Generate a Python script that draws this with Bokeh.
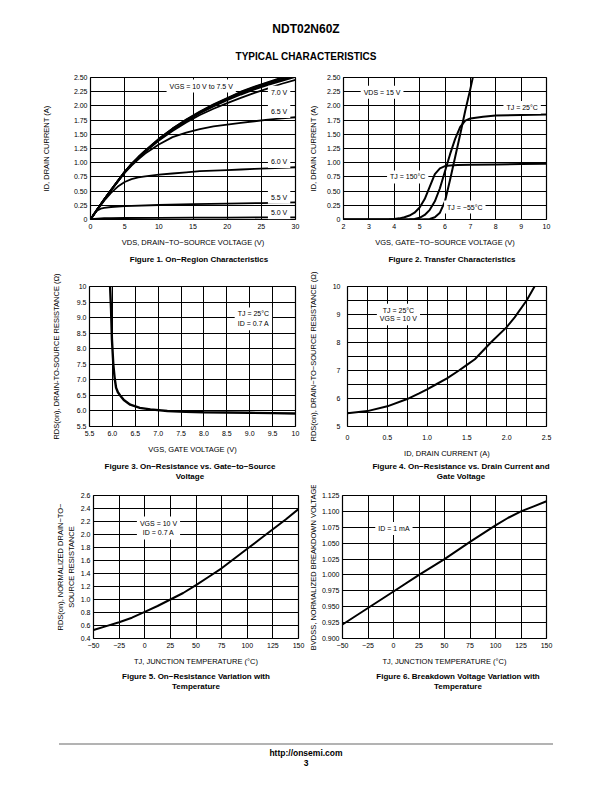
from bokeh.plotting import figure
from bokeh.models import Range1d, FixedTicker, Label, Div, Spacer
from bokeh.layouts import column, row
from bokeh.embed import file_html
from bokeh.resources import INLINE

FONT = "Liberation Sans"
CSSFONT = "'Liberation Sans', Arial, Helvetica, sans-serif"
M = "\u2212"

# ---------------- Figure 1: On-Region Characteristics ----------------
f1_vds = [0, 1, 2, 3, 4, 5, 6, 7, 8, 10, 12, 14, 16, 18, 20, 22, 24, 26, 28, 30]
f1_id_10v = [0, 0.18, 0.35, 0.52, 0.68, 0.84, 0.98, 1.10, 1.21, 1.42, 1.60, 1.76, 1.90, 2.03, 2.14, 2.25, 2.34, 2.42, 2.50, 2.57]
f1_id_9v = [0, 0.18, 0.35, 0.52, 0.68, 0.84, 0.98, 1.10, 1.21, 1.42, 1.60, 1.75, 1.89, 2.02, 2.13, 2.24, 2.33, 2.41, 2.48, 2.55]
f1_id_8v = [0, 0.18, 0.35, 0.52, 0.68, 0.84, 0.97, 1.09, 1.20, 1.41, 1.59, 1.75, 1.88, 2.01, 2.12, 2.22, 2.31, 2.39, 2.46, 2.53]
f1_id_7v5 = [0, 0.18, 0.35, 0.51, 0.67, 0.83, 0.97, 1.09, 1.20, 1.40, 1.58, 1.73, 1.87, 1.99, 2.10, 2.20, 2.29, 2.37, 2.44, 2.51]
f1_id_7v = [0, 0.18, 0.35, 0.51, 0.67, 0.83, 0.96, 1.08, 1.19, 1.39, 1.56, 1.71, 1.84, 1.95, 2.05, 2.14, 2.23, 2.31, 2.39, 2.46]
f1_id_6v5 = [0, 0.18, 0.35, 0.52, 0.67, 0.82, 0.95, 1.06, 1.16, 1.32, 1.45, 1.53, 1.59, 1.64, 1.67, 1.70, 1.73, 1.76, 1.78, 1.80]
f1_id_6v = [0, 0.17, 0.33, 0.47, 0.58, 0.66, 0.71, 0.74, 0.76, 0.79, 0.81, 0.83, 0.85, 0.86, 0.87, 0.88, 0.89, 0.90, 0.91, 0.92]
f1_vds_low = [0, 0.5, 1, 1.5, 2, 3, 5, 10, 15, 20, 25, 30]
f1_id_5v5 = [0, 0.10, 0.16, 0.19, 0.205, 0.22, 0.235, 0.255, 0.27, 0.28, 0.29, 0.30]
f1_id_5v = [0, 0.01, 0.017, 0.02, 0.022, 0.024, 0.026, 0.029, 0.032, 0.034, 0.036, 0.038]
f1_xticks = [0, 5, 10, 15, 20, 25, 30]
f1_xlabels = ["0", "5", "10", "15", "20", "25", "30"]
f1_yticks = [0, 0.25, 0.5, 0.75, 1.0, 1.25, 1.5, 1.75, 2.0, 2.25, 2.5]
f1_ylabels = ["0", "0.25", "0.50", "0.75", "1.00", "1.25", "1.50", "1.75", "2.00", "2.25", "2.50"]

# ---------------- Figure 2: Transfer Characteristics ----------------
f2_vgs_150 = [2, 3, 3.8, 4.0, 4.2, 4.4, 4.6, 4.8, 5.0, 5.2, 5.4, 5.6, 5.8, 6.0, 6.2, 6.5, 7, 8, 9, 10]
f2_id_150 = [0, 0, 0.005, 0.01, 0.02, 0.04, 0.07, 0.12, 0.21, 0.36, 0.58, 0.80, 0.90, 0.94, 0.95, 0.96, 0.965, 0.97, 0.975, 0.98]
f2_vgs_25 = [2, 4, 4.6, 4.8, 5.0, 5.2, 5.4, 5.6, 5.8, 6.0, 6.2, 6.4, 6.6, 6.8, 7.0, 7.5, 8, 9, 10]
f2_id_25 = [0, 0, 0.003, 0.01, 0.03, 0.08, 0.17, 0.32, 0.55, 0.85, 1.15, 1.42, 1.63, 1.74, 1.78, 1.81, 1.83, 1.84, 1.85]
f2_vgs_m55 = [2, 5, 5.4, 5.6, 5.8, 6.0, 6.2, 6.4, 6.6, 6.8, 7.0, 7.2]
f2_id_m55 = [0, 0, 0.01, 0.04, 0.12, 0.32, 0.70, 1.10, 1.50, 1.92, 2.30, 2.72]
f2_xticks = [2, 3, 4, 5, 6, 7, 8, 9, 10]
f2_xlabels = ["2", "3", "4", "5", "6", "7", "8", "9", "10"]

# ---------------- Figure 3: On-Resistance vs Gate Voltage ----------------
f3_vgs = [5.95, 5.97, 5.99, 6.02, 6.05, 6.08, 6.12, 6.17, 6.25, 6.39, 6.6, 6.83, 7.2, 7.6, 8.0, 8.5, 9.0, 9.5, 10.0]
f3_rds = [10.0, 9.3, 8.3, 7.5, 7.05, 6.75, 6.6, 6.5, 6.35, 6.2, 6.1, 6.05, 6.0, 5.97, 5.96, 5.95, 5.94, 5.93, 5.92]
f3_xticks = [5.5, 6.0, 6.5, 7.0, 7.5, 8.0, 8.5, 9.0, 9.5, 10.0]
f3_xlabels = ["5.5", "6.0", "6.5", "7.0", "7.5", "8.0", "8.5", "9.0", "9.5", "10"]
f3_yticks = [5.5, 6.0, 6.5, 7.0, 7.5, 8.0, 8.5, 9.0, 9.5, 10.0]
f3_ylabels = ["5.5", "6.0", "6.5", "7.0", "7.5", "8.0", "8.5", "9.0", "9.5", "10"]

# ---------------- Figure 4: On-Resistance vs Drain Current ----------------
f4_id = [0, 0.25, 0.5, 0.75, 0.9, 1.0, 1.11, 1.25, 1.4, 1.5, 1.6, 1.8, 2.0, 2.1, 2.25, 2.35, 2.4]
f4_rds = [5.47, 5.55, 5.72, 5.98, 6.18, 6.33, 6.5, 6.72, 7.0, 7.2, 7.4, 8.0, 8.55, 8.9, 9.5, 10.0, 10.25]
f4_xticks = [0, 0.5, 1.0, 1.5, 2.0, 2.5]
f4_xlabels = ["0", "0.5", "1.0", "1.5", "2.0", "2.5"]
f4_xminor = [0.25, 0.75, 1.25, 1.75, 2.25]
f4_yticks = [5, 6, 7, 8, 9, 10]
f4_ylabels = ["5", "6", "7", "8", "9", "10"]
f4_yminor = [5.5, 6.5, 7.5, 8.5, 9.5]

# ---------------- Figure 5: On-Resistance vs Temperature ----------------
f5_tj = [-50, -37.5, -25, -12.5, 0, 12.5, 25, 37.5, 50, 62.5, 75, 87.5, 100, 112.5, 125, 137.5, 150]
f5_rn = [0.53, 0.59, 0.65, 0.72, 0.81, 0.90, 1.0, 1.1, 1.22, 1.35, 1.48, 1.63, 1.78, 1.93, 2.08, 2.23, 2.39]
t_ticks = [-50, -25, 0, 25, 50, 75, 100, 125, 150]
t_labels = [M + "50", M + "25", "0", "25", "50", "75", "100", "125", "150"]
f5_yticks = [0.4, 0.6, 0.8, 1.0, 1.2, 1.4, 1.6, 1.8, 2.0, 2.2, 2.4, 2.6]
f5_ylabels = ["0.4", "0.6", "0.8", "1.0", "1.2", "1.4", "1.6", "1.8", "2.0", "2.2", "2.4", "2.6"]

# ---------------- Figure 6: Breakdown Voltage vs Temperature ----------------
f6_tj = [-50, -25, 0, 25, 50, 75, 100, 112.5, 125, 137.5, 150]
f6_bv = [0.922, 0.948, 0.974, 1.0, 1.025, 1.052, 1.078, 1.090, 1.100, 1.108, 1.116]
f6_yticks = [0.9, 0.925, 0.95, 0.975, 1.0, 1.025, 1.05, 1.075, 1.1, 1.125]
f6_ylabels = ["0.900", "0.925", "0.950", "0.975", "1.000", "1.025", "1.050", "1.075", "1.100", "1.125"]


def make_fig(w, h, xr, yr, bl, br, bt, bb):
    p = figure(width=w, height=h, x_range=Range1d(*xr), y_range=Range1d(*yr),
               output_backend="svg", toolbar_location=None,
               min_border_left=bl, min_border_right=br,
               min_border_top=bt, min_border_bottom=bb)
    p.background_fill_color = "white"
    p.border_fill_color = "white"
    p.outline_line_color = "black"
    p.outline_line_width = 1.2
    p.outline_line_alpha = 1.0
    for ax in (p.xaxis[0], p.yaxis[0]):
        ax.axis_line_color = None
        ax.major_tick_line_color = None
        ax.minor_tick_line_color = None
        ax.major_tick_out = 0
        ax.major_tick_in = 0
        ax.major_label_text_font = FONT
        ax.major_label_text_font_size = "7px"
        ax.major_label_text_color = "black"
        ax.axis_label_text_font = FONT
        ax.axis_label_text_font_size = "7.5px"
        ax.axis_label_text_font_style = "normal"
        ax.axis_label_text_color = "black"
        ax.major_label_standoff = 3
    p.xaxis[0].major_label_standoff = 4
    p.xaxis[0].axis_label_standoff = 6
    for g in (p.xgrid[0], p.ygrid[0]):
        g.grid_line_color = "black"
        g.grid_line_width = 1
        g.grid_line_alpha = 1.0
    return p


def set_ticks(p, dim, ticks, labels, minor=None):
    ax = p.xaxis[0] if dim == "x" else p.yaxis[0]
    gr = p.xgrid[0] if dim == "x" else p.ygrid[0]
    ax.ticker = FixedTicker(ticks=ticks, minor_ticks=minor or [])
    ax.major_label_overrides = {t: l for t, l in zip(ticks, labels)}
    if minor:
        gr.minor_grid_line_color = "black"
        gr.minor_grid_line_width = 1
        gr.minor_grid_line_alpha = 1.0


def add_label(p, x, y, text, lh=1.2):
    p.add_layout(Label(x=x, y=y, text=text, text_font=FONT, text_font_size="7px",
                       text_color="black", text_align="center", text_baseline="middle",
                       background_fill_color="white", background_fill_alpha=1.0,
                       padding=3, text_line_height=lh))


def caption(lines, center, left, width, height, pad, lh):
    w = 260
    ml = center - left - w / 2
    html = ('<div style="font-family:%s;font-weight:bold;font-size:8px;color:black;'
            'line-height:%dpx;padding-top:%dpx;width:%dpx;margin-left:%dpx;'
            'text-align:center;white-space:nowrap;">%s</div>'
            % (CSSFONT, lh, pad, w, ml, "<br>".join(lines)))
    return Div(text=html, width=width, height=height, margin=0)


# ---- Figure 1
p1 = make_fig(297, 180, (0, 30), (0, 2.5), 82, 10, 7, 31)
set_ticks(p1, "x", f1_xticks, f1_xlabels)
set_ticks(p1, "y", f1_yticks, f1_ylabels)
p1.xaxis.axis_label = "VDS, DRAIN" + M + "TO" + M + "SOURCE VOLTAGE (V)"
p1.yaxis.axis_label = "ID, DRAIN CURRENT (A)"
p1.yaxis.axis_label_standoff = 20
for ys in (f1_id_10v, f1_id_9v, f1_id_8v, f1_id_7v5, f1_id_7v, f1_id_6v5, f1_id_6v):
    p1.line(f1_vds, ys, line_color="black", line_width=1.8)
for ys in (f1_id_5v5, f1_id_5v):
    p1.line(f1_vds_low, ys, line_color="black", line_width=1.8)
add_label(p1, 16.2, 2.35, "VGS = 10 V to 7.5 V")
add_label(p1, 27.6, 2.24, "7.0 V")
add_label(p1, 27.6, 1.90, "6.5 V")
add_label(p1, 27.6, 1.02, "6.0 V")
add_label(p1, 27.6, 0.39, "5.5 V")
add_label(p1, 27.6, 0.12, "5.0 V")

# ---- Figure 2
p2 = make_fig(299, 180, (2, 10), (0, 2.5), 35, 58, 7, 31)
set_ticks(p2, "x", f2_xticks, f2_xlabels)
set_ticks(p2, "y", f1_yticks, f1_ylabels)
p2.xaxis.axis_label = "VGS, GATE" + M + "TO" + M + "SOURCE VOLTAGE (V)"
p2.yaxis.axis_label = "ID, DRAIN CURRENT (A)"
p2.yaxis.axis_label_standoff = 6
p2.line(f2_vgs_150, f2_id_150, line_color="black", line_width=2)
p2.line(f2_vgs_25, f2_id_25, line_color="black", line_width=2)
p2.line(f2_vgs_m55, f2_id_m55, line_color="black", line_width=2)
add_label(p2, 3.52, 2.24, "VDS = 15 V")
add_label(p2, 9.04, 1.97, "TJ = 25\u00b0C")
add_label(p2, 4.53, 0.75, "TJ = 150\u00b0C")
add_label(p2, 6.78, 0.22, "TJ = " + M + "55\u00b0C")

# ---- Figure 3
p3 = make_fig(297, 194, (5.5, 10), (5.5, 10), 81, 10, 20, 31)
set_ticks(p3, "x", f3_xticks, f3_xlabels)
set_ticks(p3, "y", f3_yticks, f3_ylabels)
p3.xaxis.axis_label = "VGS, GATE VOLTAGE (V)"
p3.yaxis.axis_label = "RDS(on), DRAIN-TO-SOURCE RESISTANCE (\u03a9)"
p3.yaxis.axis_label_standoff = 13
p3.line(f3_vgs, f3_rds, line_color="black", line_width=2.4)
add_label(p3, 9.08, 8.96, "TJ = 25\u00b0C\nID = 0.7 A", lh=1.4)

# ---- Figure 4
p4 = make_fig(299, 194, (0, 2.5), (5, 10), 35, 58, 20, 31)
set_ticks(p4, "x", f4_xticks, f4_xlabels, f4_xminor)
set_ticks(p4, "y", f4_yticks, f4_ylabels, f4_yminor)
p4.xaxis.axis_label = "ID, DRAIN CURRENT (A)"
p4.yaxis.axis_label = "RDS(on), DRAIN" + M + "TO" + M + "SOURCE RESISTANCE (\u03a9)"
p4.yaxis.axis_label_standoff = 12
p4.line(f4_id, f4_rds, line_color="black", line_width=2)
add_label(p4, 0.64, 9.0, "TJ = 25\u00b0C\nVGS = 10 V", lh=1.2)

# ---- Figure 5
p5 = make_fig(297, 184, (-50, 150), (0.4, 2.6), 85, 7, 10, 31)
set_ticks(p5, "x", t_ticks, t_labels)
set_ticks(p5, "y", f5_yticks, f5_ylabels)
p5.xaxis.axis_label = "TJ, JUNCTION TEMPERATURE (\u00b0C)"
p5.yaxis.axis_label = "RDS(on), NORMALIZED DRAIN" + M + "TO" + M + "\nSOURCE RESISTANCE"
p5.yaxis.axis_label_standoff = 2
p5.line(f5_tj, f5_rn, line_color="black", line_width=2)
add_label(p5, 13.4, 2.1, "VGS = 10 V\nID = 0.7 A", lh=1.4)

# ---- Figure 6
p6 = make_fig(299, 184, (-50, 150), (0.9, 1.125), 36, 58, 10, 31)
set_ticks(p6, "x", t_ticks, t_labels)
set_ticks(p6, "y", f6_yticks, f6_ylabels)
p6.xaxis.axis_label = "TJ, JUNCTION TEMPERATURE (\u00b0C)"
p6.yaxis.axis_label = "BVDSS, NORMALIZED BREAKDOWN VOLTAGE"
p6.yaxis.axis_label_standoff = 1
p6.line(f6_tj, f6_bv, line_color="black", line_width=2)
add_label(p6, 0.4, 1.073, "ID = 1 mA")

# ---- page text
header = Div(text=(
    '<div style="font-family:%s;font-weight:bold;color:black;text-align:center;width:596px;">'
    '<div style="height:8px;"></div>'
    '<div style="font-size:12px;line-height:42px;height:42px;">NDT02N60Z</div>'
    '<div style="font-size:10px;line-height:14px;height:14px;">TYPICAL CHARACTERISTICS</div>'
    '</div>' % CSSFONT), width=596, height=70, margin=0)

capA = row(caption(["Figure 1. On" + M + "Region Characteristics"], 199, 8, 297, 16, 0, 16),
           caption(["Figure 2. Transfer Characteristics"], 452, 305, 299, 16, 0, 16))
capB = row(caption(["Figure 3. On" + M + "Resistance vs. Gate" + M + "to" + M + "Source", "Voltage"], 190, 8, 297, 25, 2, 10),
           caption(["Figure 4. On" + M + "Resistance vs. Drain Current and", "Gate Voltage"], 461, 305, 299, 25, 2, 10))
capC = row(caption(["Figure 5. On" + M + "Resistance Variation with", "Temperature"], 196, 8, 297, 26, 3, 10),
           caption(["Figure 6. Breakdown Voltage Variation with", "Temperature"], 458, 305, 299, 26, 3, 10))

footer = Div(text=(
    '<div style="font-family:%s;color:black;width:596px;">'
    '<div style="height:48px;"></div>'
    '<div style="margin-left:51px;width:494px;height:0;border-top:2px solid #b3b3b3;"></div>'
    '<div style="margin-top:3px;font-weight:bold;font-size:8.5px;line-height:10px;text-align:center;">'
    'http://onsemi.com<br>3</div></div>' % CSSFONT), width=596, height=81, margin=0)

content = column(header, row(p1, p2), capA, row(p3, p4), capB, row(p5, p6), capC, footer)
page = row(Spacer(width=8, height=10), content)

open("out.html", "w").write(file_html(page, INLINE))
